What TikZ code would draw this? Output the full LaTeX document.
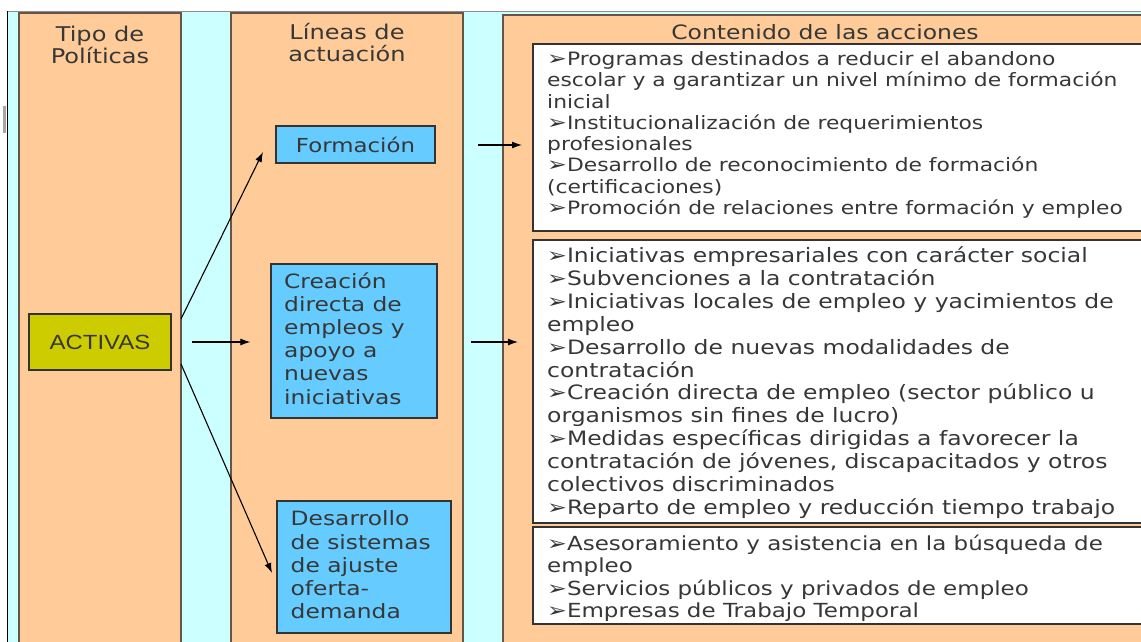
\documentclass[tikz,border=0pt]{standalone}
\usepackage{fontspec}
\usetikzlibrary{arrows.meta}
\newfontfamily\vf[FakeStretch=1.185]{DejaVu Sans}
\newfontfamily\af[FakeStretch=1.17]{Liberation Sans}
\definecolor{peach}{RGB}{255,204,153}
\definecolor{cyanbg}{RGB}{204,255,255}
\definecolor{bluebox}{RGB}{102,204,255}
\definecolor{olivebox}{RGB}{204,204,0}
\definecolor{txt}{RGB}{55,55,55}
\definecolor{colborder}{RGB}{100,85,70}
\newcommand\bl{{\fontsize{20}{16}\selectfont ➢}}
\newcommand\tx[2]{\parbox[t]{#1}{#2}}
\begin{document}
\begin{tikzpicture}[x=1pt,y=-1pt,
  colbox/.style={fill=peach, draw=colborder, line width=1.2pt},
  wbox/.style={fill=white, draw=black!80, line width=1.2pt},
  bbox/.style={fill=bluebox, draw=black!80, line width=1.2pt, inner sep=0pt},
  abox/.style={fill=olivebox, draw=black!80, line width=1.2pt, inner sep=0pt, text=txt, font=\af\fontsize{20.5}{22}\selectfont},
  hdr/.style={anchor=base, inner sep=0pt, text=txt, font=\vf\fontsize{20.3}{22}\selectfont},
  bt/.style={anchor=base west, inner sep=0pt, text=txt},
  arr/.style={-{Latex[length=10pt,width=7pt]}, line width=1.1pt, black}
]
\useasboundingbox (0,0) rectangle (1141,642);
\fill[white] (0,0) rectangle (1141,642);
\fill[cyanbg] (7,11) rectangle (1141,642);
\draw[black!45, line width=1.2pt] (7,11.5) -- (1141,11.5);
\draw[black, line width=1.2pt] (7.5,11) -- (7.5,642);
\fill[black!35] (3,106) rectangle (6,133);
% columns
\draw[colbox] (19,13) rectangle (181,660);
\draw[colbox] (231,13) rectangle (463,660);
\draw[colbox] (503,15) rectangle (1160,660);
% headers
\node[hdr] (h1) at (100,42) {\tx{160pt}{\centering Tipo de\\Políticas}};
\node[hdr] (h2) at (347,40) {\tx{230pt}{\centering Líneas de\\actuación}};
\node[hdr, font=\vf\fontsize{19.8}{22}\selectfont] (h3) at (825,40) {Contenido de las acciones};
% white boxes
\draw[wbox] (533,44) rectangle (1160,231);
\draw[wbox] (533,240) rectangle (1160,523);
\draw[wbox] (533,527) rectangle (1160,624);
% left
\node[abox, minimum width=142pt, minimum height=56pt] (act) at (100,342) {ACTIVAS};
% middle
\node[bbox, minimum width=159pt, minimum height=37pt, text=txt, font=\vf\fontsize{19.3}{22}\selectfont] (form) at (355.5,144.5) {Formación};
\node[bbox, minimum width=166pt, minimum height=154pt] (crea) at (354,341) {};
\node[bt, font=\vf\fontsize{19.7}{23.2}\selectfont] (creat) at (284,288) {\tx{160pt}{Creación\\directa de\\empleos y\\apoyo a\\nuevas\\iniciativas}};
\node[bbox, minimum width=174pt, minimum height=132pt] (desa) at (364,567) {};
\node[bt, font=\vf\fontsize{19.7}{23.3}\selectfont] (desat) at (290.5,525.7) {\tx{160pt}{Desarrollo\\de sistemas\\de ajuste\\oferta-\\demanda}};
% right texts
\node[bt, font=\vf\fontsize{18.4}{21.3}\selectfont] (t1) at (547,65.5) {\tx{600pt}{\bl Programas destinados a reducir el abandono\\escolar y a garantizar un nivel mínimo de formación\\inicial\\\bl Institucionalización de requerimientos\\profesionales\\\bl Desarrollo de reconocimiento de formación\\(certificaciones)\\\bl Promoción de relaciones entre formación y empleo}};
\node[bt, font=\vf\fontsize{19.8}{22.9}\selectfont] (t2) at (547,262.5) {\tx{600pt}{\bl Iniciativas empresariales con carácter social\\\bl Subvenciones a la contratación\\\bl Iniciativas locales de empleo y yacimientos de\\empleo\\\bl Desarrollo de nuevas modalidades de\\contratación\\\bl Creación directa de empleo (sector público u\\organismos sin fines de lucro)\\\bl Medidas específicas dirigidas a favorecer la\\contratación de jóvenes, discapacitados y otros\\colectivos discriminados\\\bl Reparto de empleo y reducción tiempo trabajo}};
\node[bt, font=\vf\fontsize{19.4}{22.4}\selectfont] (t3) at (547,550.5) {\tx{600pt}{\bl Asesoramiento y asistencia en la búsqueda de\\empleo\\\bl Servicios públicos y privados de empleo\\\bl Empresas de Trabajo Temporal}};
% connector endpoints
\coordinate (a1) at (181,319);
\coordinate (f1) at (263,152);
\coordinate (a2) at (181,364);
\coordinate (d1) at (272,573);
\coordinate (fo) at (478,145);
\coordinate (b1) at (522,145);
\coordinate (co) at (471,342);
\coordinate (b2) at (518,342);
\draw[arr] (a1) -- (f1);
\draw[arr] (a2) -- (d1);
\draw[arr] ([xshift=20pt]act.east) -- ([xshift=-20pt]crea.west |- act.east);
\draw[arr] (fo) -- (b1);
\draw[arr] (co) -- (b2);
\end{tikzpicture}
\end{document}
